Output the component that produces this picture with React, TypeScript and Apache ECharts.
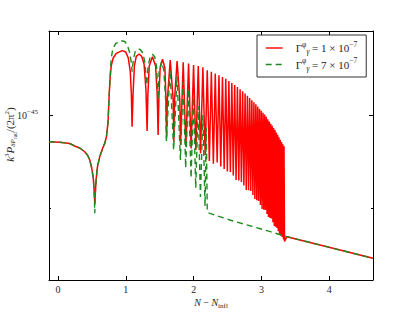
import React, { useEffect, useRef } from "react";
import * as echarts from "echarts";

// x axis: N - N_infl ; y axis: k^3 P / (2 pi^2) in units of 1e-45 (log scale)
const xTickValues = [0, 1, 2, 3, 4];
const yMajorTickValues = [1.0];
const yMinorTickValues = [0.9];
const xRange = [-0.133, 4.645];
const yRange = [0.8295, 1.1011];

const seriesNames = ["g1", "g7"];

const redN = [
  -0.133, 0.025, 0.173, 0.246, 0.32, 0.394, 0.438, 0.468, 0.497, 0.52, 0.534, 0.542, 0.551, 0.564, 0.582, 0.615,
  0.66, 0.689, 0.714, 0.738, 0.753, 0.768,
  0.785, 0.812, 0.859, 0.948, 0.999, 1.036, 1.066, 1.082, 1.092,
  1.106, 1.126, 1.154, 1.196, 1.235, 1.269, 1.297, 1.314,
  1.325, 1.345, 1.393, 1.439, 1.463, 1.476,
  1.488, 1.506, 1.541, 1.576, 1.591, 1.6,
  1.612, 1.655, 1.698, 1.708,
  1.718, 1.756, 1.796, 1.807,
  1.846, 1.885, 1.925, 1.963, 1.999, 2.033, 2.068, 2.102, 2.136, 2.17,
  2.2007, 2.2317, 2.2613, 2.2908, 2.3188, 2.3469, 2.3734, 2.4, 2.4251, 2.4502,
  2.4738, 2.4974, 2.5196, 2.5417, 2.5631, 2.5845, 2.6052, 2.6258, 2.6457, 2.6657,
  2.6849, 2.7041, 2.7225, 2.7409, 2.7587, 2.7764, 2.7933, 2.8103, 2.8265, 2.8428,
  2.8583, 2.8738, 2.8886, 2.9033, 2.9173, 2.9314, 2.9446, 2.9579, 2.9712, 2.9845,
  2.997, 3.0096, 3.0221, 3.0347, 3.0465, 3.0583, 3.0701, 3.0819, 3.093, 3.104,
  3.1151, 3.1262, 3.1373, 3.1483, 3.1586, 3.169, 3.1793, 3.1896, 3.2, 3.2103,
  3.2199, 3.2295, 3.2391, 3.2487, 3.2583, 3.2679, 3.2775, 3.2871, 3.2967, 3.3063,
  3.3158, 3.3255,
  3.3328, 3.3402, 3.3756, 4.0103, 4.645,
];
const redP = [
  0.9708, 0.9702, 0.9688, 0.9661, 0.9639, 0.9598, 0.9558, 0.9508, 0.9422, 0.9315, 0.9168, 0.9054, 0.9168, 0.9315,
  0.9436, 0.9544, 0.9639, 0.969, 0.9763, 0.9929, 1.0215, 1.0439,
  1.0582, 1.0675, 1.0734, 1.0768, 1.0752, 1.0679, 1.051, 1.0238, 0.9876,
  1.0238, 1.0582, 1.0697, 1.0727, 1.0697, 1.0606, 1.0297, 0.9828,
  1.0238, 1.0582, 1.0694, 1.0582, 1.0238, 0.9783,
  1.0215, 1.0558, 1.0663, 1.0558, 1.0203, 0.9743,
  1.018, 1.0654, 1.018, 0.9708,
  1.018, 1.0642, 1.018, 0.9672,
  1.0627, 0.9653, 1.0611, 0.9635, 1.0594, 0.9617, 1.0582, 0.958, 1.0566, 0.9563,
  1.053, 0.9497, 1.0511, 0.9468, 1.0492, 0.9481, 1.0469, 0.9439, 1.0449, 0.9412,
  1.0428, 0.9385, 1.0403, 0.9379, 1.0379, 0.9342, 1.0356, 0.9294, 1.0331, 0.9289,
  1.0305, 0.9273, 1.0281, 0.9236, 1.0256, 0.9189, 1.0228, 0.9186, 1.0202, 0.9179,
  1.0177, 0.9137, 1.0154, 0.9095, 1.013, 0.9083, 1.0106, 0.9075, 1.008, 0.9033,
  1.0057, 0.8992, 1.0034, 0.8986, 1.0013, 0.8982, 0.9987, 0.8943, 0.9959, 0.8912,
  0.9934, 0.8902, 0.9908, 0.8896, 0.9885, 0.8859, 0.9861, 0.8821, 0.9837, 0.8812,
  0.981, 0.8801, 0.9784, 0.8769, 0.9757, 0.8741, 0.9731, 0.8726, 0.9706, 0.8711,
  0.968, 0.8686,
  0.9657, 0.8666, 0.8714, 0.8608, 0.8502,
];

const greenN = [
  -0.133, 0.025, 0.173, 0.246, 0.32, 0.394, 0.438, 0.468, 0.497, 0.52, 0.534, 0.542, 0.551, 0.564, 0.582, 0.615,
  0.66, 0.689, 0.714, 0.738, 0.753, 0.768,
  0.782, 0.807, 0.852, 0.933, 0.985, 1.021, 1.054, 1.079, 1.092, 1.11,
  1.139, 1.176, 1.213, 1.25, 1.28, 1.309, 1.328, 1.361, 1.393, 1.427,
  1.455, 1.475, 1.491, 1.526, 1.56, 1.587, 1.599, 1.652, 1.705, 1.755,
  1.805, 1.845, 1.883, 1.923, 1.962, 1.997, 2.031, 2.066, 2.1, 2.136,
  2.168, 2.186, 2.201, 2.214, 2.534, 2.839, 3.119, 3.336, 4.01, 4.645,
];
const greenP = [
  0.9708, 0.9702, 0.9688, 0.9661, 0.9639, 0.9598, 0.9558, 0.9508, 0.9422, 0.9315, 0.9168, 0.8949, 0.9168, 0.9315,
  0.9436, 0.9544, 0.9639, 0.969, 0.9763, 0.9929, 1.0215, 1.0439,
  1.0654, 1.0788, 1.0856, 1.089, 1.088, 1.0837, 1.0752, 1.063, 1.0513, 1.0654,
  1.0758, 1.0788, 1.0782, 1.0739, 1.063, 1.0355, 1.0582, 1.0697, 1.0724, 1.0691,
  1.0558, 1.018, 1.051, 1.0634, 1.0534, 1.018, 0.9716, 1.0534, 0.9617, 1.0462,
  0.9508, 1.0391, 0.9422, 1.0309, 0.9315, 1.0215, 0.921, 1.0111, 0.9116, 1.0008,
  0.9023, 0.9862, 0.8962, 0.8954, 0.8881, 0.8821, 0.8766, 0.8721, 0.8608, 0.8502,
];

const SERIF = "'Liberation Serif', 'DejaVu Serif', serif";
const TXT = "#262626";

const lg = (v: number) => Math.log10(v);

export default function App() {
  const ref = useRef<HTMLDivElement>(null);
  useEffect(() => {
    if (!ref.current) return;
    const chart = echarts.init(ref.current, undefined, { renderer: "svg" });
    const yMin = lg(yRange[0]);
    const yMax = lg(yRange[1]);
    const baseX = {
      type: "value",
      min: xRange[0],
      max: xRange[1],
      splitLine: { show: false },
      axisLine: { show: true, onZero: false, lineStyle: { color: "#000", width: 1 } },
    };
    const baseY = {
      type: "value",
      min: yMin,
      max: yMax,
      splitLine: { show: false },
      axisLine: { show: true, onZero: false, lineStyle: { color: "#000", width: 1 } },
    };
    const richSmall = {
      t: { fontFamily: SERIF, fontSize: 10, color: TXT },
      tl: { fontFamily: SERIF, fontSize: 11, color: TXT },
      i: { fontFamily: SERIF, fontSize: 10, fontStyle: "italic", color: TXT },
      il: { fontFamily: SERIF, fontSize: 11, fontStyle: "italic", color: TXT },
      sup: { fontFamily: SERIF, fontSize: 7, color: TXT, padding: [0, 0, 7, 0] },
      supl: { fontFamily: SERIF, fontSize: 7.5, color: TXT, padding: [0, 0, 8, 0] },
      sub: { fontFamily: SERIF, fontSize: 7, color: TXT, padding: [6, 0, 0, 0] },
      subi: { fontFamily: SERIF, fontSize: 7, fontStyle: "italic", color: TXT, padding: [5, 0, 0, 0] },
      subil: { fontFamily: SERIF, fontSize: 7.5, fontStyle: "italic", color: TXT, padding: [7, 0, 0, 0] },
      subsub: { fontFamily: SERIF, fontSize: 5.5, color: TXT, padding: [10, 0, 0, 0] },
      g: { width: 8 },
    };
    const option: any = {
      animation: false,
      backgroundColor: "#ffffff",
      grid: { left: 49, top: 31, width: 324, height: 249, outerBoundsMode: "none", containLabel: false },
      legend: {
        show: true,
        orient: "vertical",
        left: 257,
        top: 35,
        selectedMode: false,
        itemWidth: 17,
        itemHeight: 8,
        itemGap: 1,
        padding: [5, 9, 5, 8],
        borderColor: "#333",
        borderWidth: 1,
        borderRadius: 0,
        backgroundColor: "#fff",
        itemStyle: { color: "transparent", borderColor: "transparent", borderWidth: 0, opacity: 0 },
        lineStyle: { width: 1.4 },
        data: seriesNames,
        formatter: (name: string) =>
          name === "g1"
            ? "{g| }{tl|Γ}{supl|φ}{subil|γ}{tl| = 1 × 10}{supl|−7}"
            : "{g| }{tl|Γ}{supl|φ}{subil|γ}{tl| = 7 × 10}{supl|−7}",
        textStyle: { fontFamily: SERIF, fontSize: 11, color: TXT, rich: richSmall },
      },
      xAxis: [
        {
          ...baseX,
          position: "bottom",
          axisTick: { show: true, inside: true, length: 4, customValues: xTickValues, lineStyle: { color: "#000" } },
          axisLabel: {
            show: true,
            customValues: xTickValues,
            margin: 4,
            fontSize: 10,
            fontFamily: SERIF,
            color: TXT,
          },
          name: "{i|N} {t|−} {i|N}{sub|infl}",
          nameLocation: "middle",
          nameGap: 16,
          nameMoveOverlap: false,
          nameTextStyle: { fontFamily: SERIF, fontSize: 10, color: TXT, rich: richSmall },
        },
        {
          ...baseX,
          position: "top",
          axisTick: { show: true, inside: true, length: 4, customValues: xTickValues, lineStyle: { color: "#000" } },
          axisLabel: { show: false },
        },
      ],
      yAxis: [
        {
          ...baseY,
          position: "left",
          axisTick: {
            show: true,
            inside: true,
            length: 4,
            customValues: yMajorTickValues.map(lg),
            lineStyle: { color: "#000" },
          },
          axisLabel: {
            show: true,
            customValues: yMajorTickValues.map(lg),
            margin: 11,
            formatter: () => "{t|10}{sup|−45}",
            rich: richSmall,
          },
          name: "{il|k}{sup|3}{il|P}{subi|δP}{subsub|rad}{tl|/(2π}{sup|2}{tl|)}",
          nameLocation: "middle",
          nameRotate: 90,
          nameGap: 31,
          nameMoveOverlap: false,
          nameTextStyle: { fontFamily: SERIF, fontSize: 11, color: TXT, rich: richSmall, padding: [0, 0, 0, 42] },
        },
        {
          ...baseY,
          position: "left",
          axisLine: { show: false, onZero: false },
          axisTick: {
            show: true,
            inside: true,
            length: 2,
            customValues: yMinorTickValues.map(lg),
            lineStyle: { color: "#000" },
          },
          axisLabel: { show: false },
        },
        {
          ...baseY,
          position: "right",
          axisTick: {
            show: true,
            inside: true,
            length: 4,
            customValues: yMajorTickValues.map(lg),
            lineStyle: { color: "#000" },
          },
          axisLabel: { show: false },
        },
        {
          ...baseY,
          position: "right",
          axisLine: { show: false, onZero: false },
          axisTick: {
            show: true,
            inside: true,
            length: 2,
            customValues: yMinorTickValues.map(lg),
            lineStyle: { color: "#000" },
          },
          axisLabel: { show: false },
        },
      ],
      series: [
        {
          name: seriesNames[0],
          type: "line",
          xAxisIndex: 0,
          yAxisIndex: 0,
          symbol: "none",
          showSymbol: false,
          clip: true,
          lineStyle: { color: "#ff0000", width: 1.5 },
          itemStyle: { color: "#ff0000" },
          data: redN.map((n, i) => [n, lg(redP[i])]),
          z: 2,
        },
        {
          name: seriesNames[1],
          type: "line",
          xAxisIndex: 0,
          yAxisIndex: 0,
          symbol: "none",
          showSymbol: false,
          clip: true,
          lineStyle: { color: "#1f8a1f", width: 1.4, type: [6, 4] },
          itemStyle: { color: "#1f8a1f" },
          data: greenN.map((n, i) => [n, lg(greenP[i])]),
          z: 3,
        },
      ],
    };
    chart.setOption(option);
    return () => chart.dispose();
  }, []);
  return (
    <div
      ref={ref}
      style={{ position: "fixed", left: 0, top: 0, width: 415, height: 312, background: "#fff" }}
    />
  );
}
